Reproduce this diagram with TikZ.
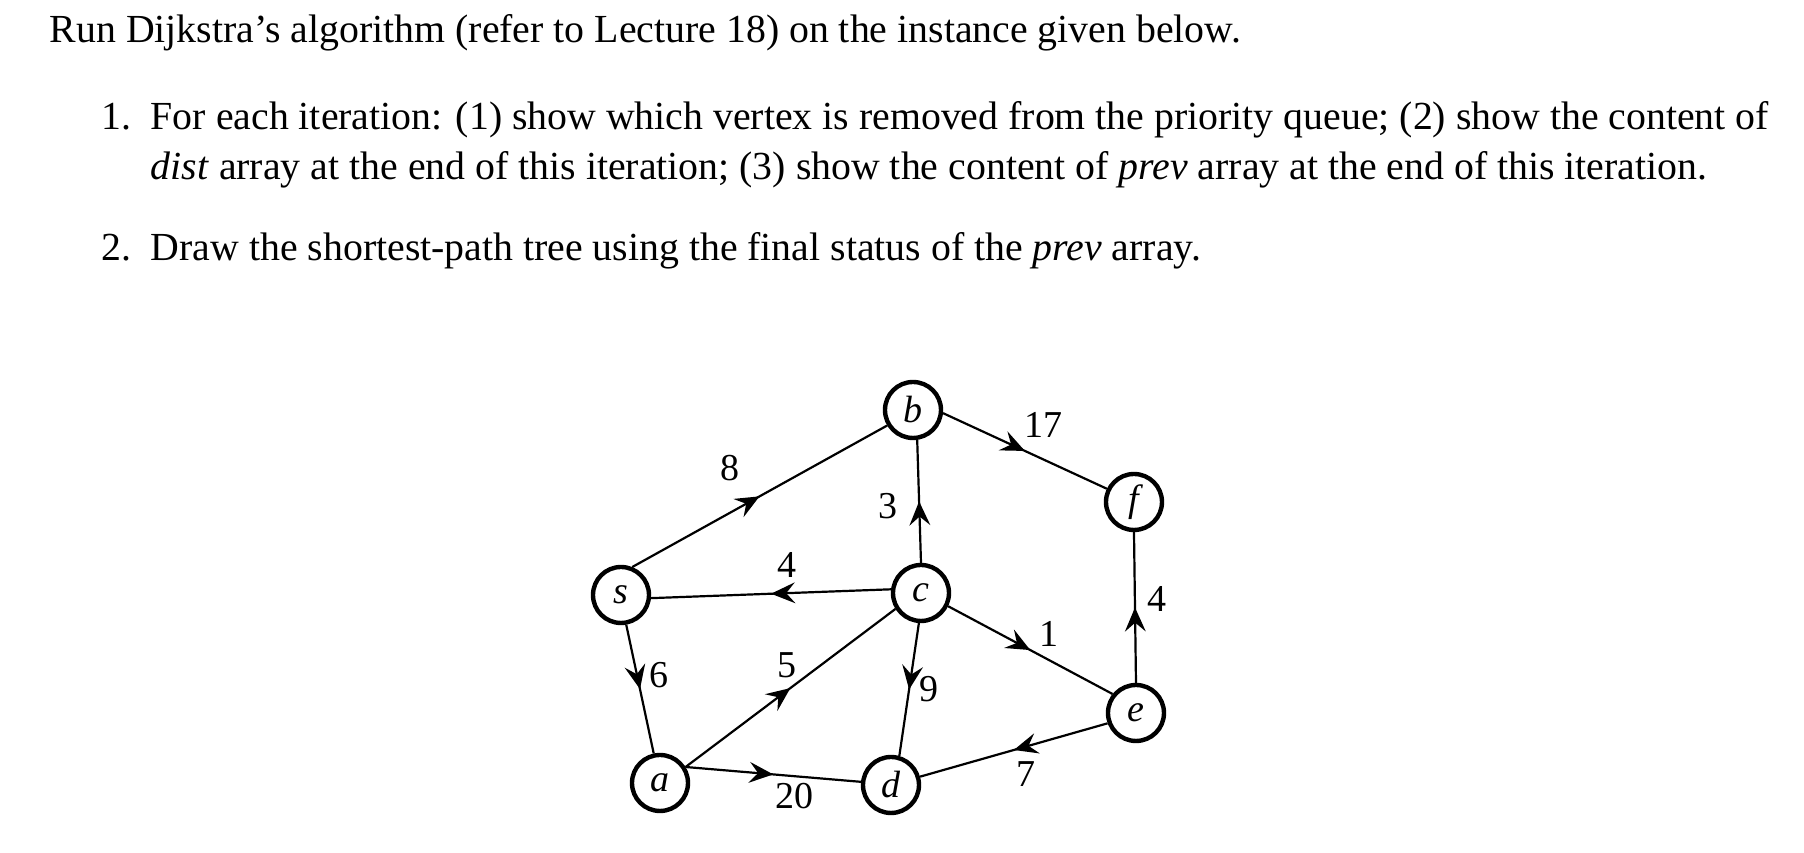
\documentclass[tikz,border=0pt]{standalone}
\usepackage{fontspec}
\setmainfont{Liberation Serif}
\usetikzlibrary{arrows.meta}
\usetikzlibrary{decorations.markings}

\tikzset{
  vertex/.style={circle, draw, line width=1.1pt, minimum size=14pt, inner sep=0pt,
    font=\fontsize{9.5}{10}\selectfont\itshape},
  edge/.style={line width=0.55pt, postaction={decorate},
    decoration={markings, mark=at position 0.5 with {\arrow{Stealth[length=6pt, width=5.2pt, inset=2.2pt]}}}},
  wt/.style={inner sep=0pt, font=\fontsize{9.5}{11}\selectfont},
  line/.style={anchor=base west, inner sep=0pt, font=\fontsize{9.95}{12}\selectfont}
}

\begin{document}
\begin{tikzpicture}[x=0.25pt, y=-0.25pt]
\useasboundingbox (0,0) rectangle (1804,853);

% task text
\node[line] (intro) at (49,43) {Run Dijkstra's algorithm (refer to Lecture 18) on the instance given below.};
\node[line] (num1) at (101,130) {1.};
\node[line] (item1a) at (150,130) {For each iteration: (1) show which vertex is removed from the priority queue; (2) show the content of};
\node[line] (item1b) at (150,180) {\textit{dist} array at the end of this iteration; (3) show the content of \textit{prev} array at the end of this iteration.};
\node[line] (num2) at (101,261) {2.};
\node[line] (item2) at (150,261) {Draw the shortest-path tree using the final status of the \textit{prev} array.};

% vertices
\node[vertex] (s) at (621,595) {s};
\node[vertex] (b) at (913,410) {b};
\node[vertex] (c) at (921,593) {c};
\node[vertex] (f) at (1134,502) {f};
\node[vertex] (e) at (1136,713) {e};
\node[vertex] (a) at (660,783) {a};
\node[vertex] (d) at (891,785) {d};

% weighted edges (boundary angles as in the sketch)
\draw[edge] (s.68) -- node[wt, shift={(-30,-28)}] {8} (b.211);
\draw[edge] (b.-6) -- node[wt, shift={(19,-26)}] {17} (f.154);
\draw[edge] (c.90) -- node[wt, shift={(-31,5)}] {3} (b.-82);
\draw[edge] (c.173) -- node[wt, shift={(16,-29)}] {4} (s.-6);
\draw[edge] (e.90) -- node[wt, shift={(22,-8)}] {4} (f.-90);
\draw[edge] (c.-26) -- node[wt, shift={(19,-16)}] {1} (e.141);
\draw[edge] (s.-80) -- node[wt, shift={(19,-14)}] {6} (a.102);
\draw[edge] (a.32) -- node[wt, shift={(-4,-23)}] {5} (c.212);
\draw[edge] (c.-94) -- node[wt, shift={(20,0)}] {9} (d.74);
\draw[edge] (e.200) -- node[wt, shift={(12,24)}] {7} (d.16);
\draw[edge] (a.32) -- node[wt, shift={(21,22)}] {20} (d.174);
\end{tikzpicture}
\end{document}
